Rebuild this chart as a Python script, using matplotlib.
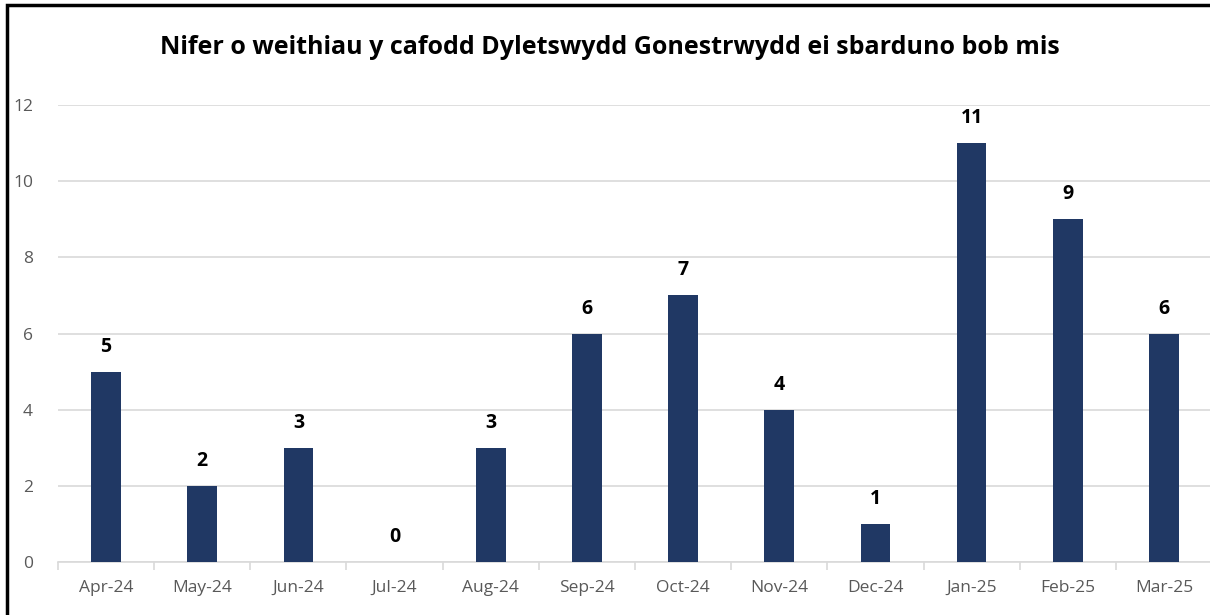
import matplotlib.pyplot as plt
import numpy as np
from matplotlib.patches import Rectangle

months = ['Apr-24', 'May-24', 'Jun-24', 'Jul-24', 'Aug-24', 'Sep-24',
          'Oct-24', 'Nov-24', 'Dec-24', 'Jan-25', 'Feb-25', 'Mar-25']
counts = [5, 2, 3, 0, 3, 6, 7, 4, 1, 11, 9, 6]

plt.rcParams['font.family'] = ['Open Sans', 'DejaVu Sans']

fig = plt.figure(figsize=(12.1, 6.15), dpi=100)
ax = fig.add_axes([58/1210, 1 - 562/615, 1154/1210, (562 - 105)/615])

x = np.arange(len(months))
bars = ax.bar(x, counts, width=0.31, color='#203864', zorder=3)

for xi, v in zip(x, counts):
    ax.annotate(str(v), (xi, v), xytext=(0, 18), textcoords='offset points',
                ha='center', va='center', fontsize=14, fontweight='bold', color='black')

ax.set_xlim(-0.5, len(months) - 0.5)
ax.set_ylim(0, 12)
ax.set_yticks(range(0, 13, 2))
ax.yaxis.grid(True, color='#d9d9d9', linewidth=1.2, zorder=0)
ax.set_axisbelow(True)

ax.set_xticks(x)
ax.set_xticklabels(months)
ax.set_xticks(np.arange(-0.5, len(months), 1), minor=True)
ax.tick_params(axis='x', which='major', length=0, pad=13, labelsize=12.5, labelcolor='#595959')
ax.tick_params(axis='x', which='minor', length=6, width=1.2, color='#d9d9d9')
ax.tick_params(axis='y', length=0, pad=18, labelsize=12.5, labelcolor='#595959')

for side in ['top', 'right', 'left']:
    ax.spines[side].set_visible(False)
ax.spines['bottom'].set_color('#d9d9d9')
ax.spines['bottom'].set_linewidth(1.2)

fig.text(610/1210, 1 - 47/615, 'Nifer o weithiau y cafodd Dyletswydd Gonestrwydd ei sbarduno bob mis',
         ha='center', va='center', fontsize=18, fontweight='bold')

# outer frame
fig.patches.append(Rectangle((7/1210, -0.1), 1.2, 1 - 5/615 + 0.1, transform=fig.transFigure,
                             fill=False, edgecolor='black', linewidth=2.5))

fig.savefig('out.png', dpi=100)
